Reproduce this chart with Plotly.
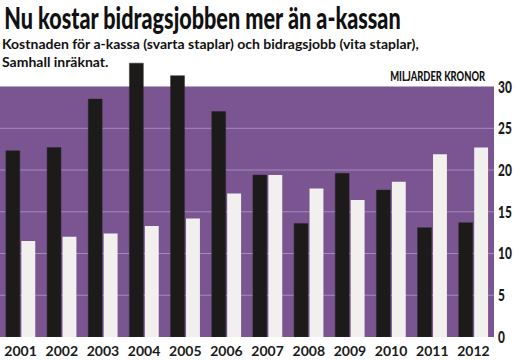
import plotly.graph_objects as go

years = ["2001", "2002", "2003", "2004", "2005", "2006", "2007", "2008", "2009", "2010", "2011", "2012"]
akassa = [22.3, 22.7, 28.5, 32.8, 31.3, 27.0, 19.4, 13.6, 19.6, 17.6, 13.1, 13.7]
bidragsjobb = [11.5, 12.0, 12.4, 13.3, 14.2, 17.2, 19.4, 17.8, 16.4, 18.6, 21.9, 22.7]
y_ticks = [0, 5, 10, 15, 20, 25, 30]

title = "Nu kostar bidragsjobben mer än a-kassan"
subtitle = "Kostnaden för a-kassa (svarta staplar) och bidragsjobb (vita staplar),<br>Samhall inräknat."
unit = "MILJARDER KRONOR"

purple = "#7a5592"
grid = "#a48cb8"

fig = go.Figure()
fig.add_trace(go.Bar(x=years, y=akassa, marker=dict(color="#1c1b19", line=dict(color="#2a2a2a", width=0.5)), showlegend=False))
fig.add_trace(go.Bar(x=years, y=bidragsjobb, marker=dict(color="#f1f0ee", line=dict(width=0)), showlegend=False))

fig.add_shape(type="rect", xref="paper", yref="y", x0=0, x1=1, y0=0, y1=max(y_ticks),
              fillcolor=purple, line=dict(width=0), layer="below")
for t in y_ticks[1:-1]:
    fig.add_shape(type="line", xref="paper", yref="y", x0=0, x1=1, y0=t, y1=t,
                  line=dict(color=grid, width=1), layer="below")

fig.update_layout(
    width=515, height=361,
    margin=dict(l=0, r=21, t=59, b=24, autoexpand=False),
    paper_bgcolor="white", plot_bgcolor="white",
    barmode="group", bargap=0.25, bargroupgap=0.1,
    xaxis=dict(showgrid=False, zeroline=False, showline=False, ticks="", automargin=False,
               ticklabelstandoff=4,
               tickfont=dict(family="Lato", size=14, color="#1a1a1a", weight="bold")),
    yaxis=dict(side="right", range=[0, 33.3], tickvals=y_ticks, showgrid=False, zeroline=False,
               showline=False, ticks="", ticklabelstandoff=3, automargin=False,
               tickfont=dict(family="Lato", size=17, color="#1a1a1a", weight=900)),
    annotations=[
        dict(text=title, xref="paper", yref="paper", x=0, xanchor="left", y=1, yanchor="top",
             xshift=2, yshift=62, showarrow=False,
             font=dict(family="Lato", size=30, color="#111", weight=900)),
        dict(text=subtitle, xref="paper", yref="paper", x=0, xanchor="left", y=1, yanchor="top",
             yshift=26, showarrow=False, align="left",
             font=dict(family="Lato", size=14, color="#111", weight="bold")),
        dict(text=unit, xref="paper", yref="y", x=0.985, xanchor="right", y=30, yanchor="bottom",
             yshift=1, showarrow=False,
             font=dict(family="Lato", size=13, color="#111", weight=900)),
    ],
)

post = """
document.body.style.margin = '0';
var gd = document.getElementById('{plot_id}');
function squash() {
  gd.querySelectorAll('text.annotation-text').forEach(function (t) {
    var s = t.textContent;
    var k = null;
    if (s.indexOf('Nu kostar') === 0) k = 0.72;
    else if (s.indexOf('MILJARDER') === 0) k = 0.72;
    if (k) {
      t.style.transformBox = 'fill-box';
      t.style.transformOrigin = (s.indexOf('MILJARDER') === 0) ? 'right center' : 'left center';
      t.style.transform = 'scaleX(' + k + ')';
    }
  });
  gd.querySelectorAll('g.ytick text').forEach(function (t) {
    if (t.getAttribute('data-sq')) return;
    var bb = t.getBBox();
    var x0 = bb.x;
    var old = t.getAttribute('transform') || '';
    t.setAttribute('transform', old + ' translate(' + x0 + ',0) scale(0.7,1) translate(' + (-x0) + ',0)');
    t.setAttribute('data-sq', '1');
  });
}
squash();
gd.on('plotly_afterplot', squash);
"""

fig.write_html("out.html", post_script=post, config={"displayModeBar": False})
